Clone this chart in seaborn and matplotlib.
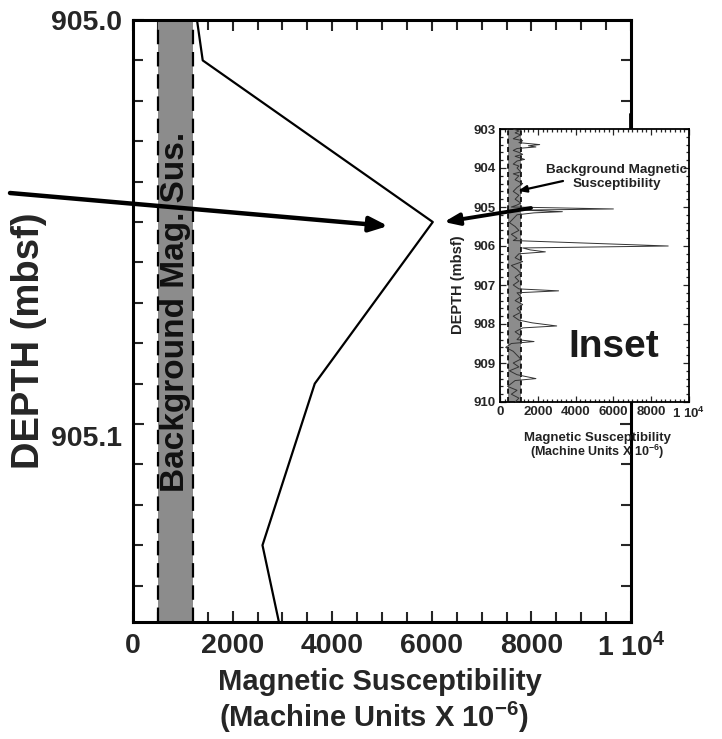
import matplotlib
matplotlib.use("Agg")
import matplotlib.pyplot as plt
import seaborn as sns
import numpy as np
from matplotlib.ticker import MultipleLocator
from matplotlib.lines import Line2D
from matplotlib.transforms import ScaledTranslation

# ---------------- data ----------------
main_depth = [905.000, 905.010, 905.050, 905.090, 905.130, 905.149]
main_value = [1285, 1400, 6020, 3650, 2600, 2930]
main_band = [500, 1200]
main_xticks = [0, 2000, 4000, 6000, 8000, 10000]
main_xticklabels = ["0", "2000", "4000", "6000", "8000", r"1 10$^4$"]
main_yticks = [905.0, 905.1]
main_yticklabels = ["905.0", "905.1"]

inset_depth = [903.00, 903.05, 903.10, 903.15, 903.20, 903.25, 903.30, 903.35, 903.40, 903.43,
               903.46, 903.50, 903.55, 903.60, 903.65, 903.70, 903.78, 903.82, 903.90, 903.95,
               904.00, 904.10, 904.15, 904.20, 904.30, 904.40, 904.50, 904.60, 904.70, 904.80,
               904.90, 904.95, 905.00, 905.05, 905.08, 905.12, 905.15, 905.20, 905.30, 905.40,
               905.50, 905.60, 905.70, 905.80, 905.86, 906.00, 906.05, 906.10, 906.15, 906.20,
               906.30, 906.40, 906.50, 906.60, 906.70, 906.80, 906.90, 907.00, 907.10, 907.15,
               907.20, 907.30, 907.40, 907.50, 907.60, 907.70, 907.80, 907.90, 907.97, 908.05,
               908.10, 908.20, 908.30, 908.40, 908.45, 908.50, 908.60, 908.70, 908.80, 908.90,
               909.00, 909.10, 909.20, 909.30, 909.40, 909.45, 909.60, 909.70, 909.80, 909.90,
               910.00]
inset_value = [700, 1000, 800, 1100, 900, 700, 1200, 1000, 2100, 1500,
               1900, 900, 700, 1000, 1200, 800, 1300, 900, 700, 1000,
               900, 1100, 700, 1000, 800, 1200, 900, 700, 1000, 800,
               1100, 900, 600, 6000, 1200, 3300, 1800, 900, 700, 500,
               800, 1000, 600, 900, 700, 8900, 1200, 1600, 2400, 1000,
               800, 1200, 600, 900, 1100, 800, 1000, 700, 1000, 3100,
               900, 1100, 800, 1200, 900, 1100, 700, 1000, 1700, 3000,
               1200, 800, 1100, 900, 1800, 600, 300, 700, 900, 1100,
               700, 1000, 500, 900, 1900, 800, 400, 900, 600, 1000,
               800]
inset_band = [400, 1100]
inset_yticks = [903, 904, 905, 906, 907, 908, 909, 910]

# ---------------- style ----------------
sns.set_style("ticks")
plt.rcParams["font.family"] = ["Liberation Sans", "DejaVu Sans"]
plt.rcParams["font.weight"] = "bold"
plt.rcParams["mathtext.fontset"] = "custom"
plt.rcParams["mathtext.rm"] = "Liberation Sans:bold"
plt.rcParams["mathtext.it"] = "Liberation Sans:bold"
plt.rcParams["mathtext.bf"] = "Liberation Sans:bold"
plt.rcParams["mathtext.default"] = "rm"

W, H = 722, 739
fig = plt.figure(figsize=(W / 100, H / 100), dpi=100)
fig.patch.set_facecolor("white")

def fx(px):
    return px / W

def fy(py):
    return 1 - py / H

GRAY = "#8c8c8c"

# ---------------- main axes ----------------
ax = fig.add_axes([fx(133), fy(622), fx(631) - fx(133), fy(20) - fy(622)])
ax.set_facecolor("white")
ax.axvspan(main_band[0], main_band[1], color=GRAY, lw=0, zorder=1)
for b in main_band:
    ax.axvline(b, color="black", lw=1.6, ls=(0, (6.5, 3.5)), zorder=2)
sns.lineplot(x=main_value, y=main_depth, sort=False, estimator=None,
             color="black", lw=1.6, ax=ax, zorder=3)
ax.set_xlim(0, 10000)
ax.set_ylim(905.149, 905.0)
ax.set_xticks(main_xticks)
ax.set_xticklabels(main_xticklabels)
ax.set_yticks(main_yticks)
ax.set_yticklabels(main_yticklabels)
ax.xaxis.set_minor_locator(MultipleLocator(500))
ax.yaxis.set_minor_locator(MultipleLocator(0.01))
ax.tick_params(which="both", direction="in", top=True, right=True, width=1.5,
               labelsize=20.5, pad=8)
ax.tick_params(which="major", length=8)
ax.tick_params(which="minor", length=7)
for lab in ax.get_xticklabels() + ax.get_yticklabels():
    lab.set_fontweight("bold")
# the 905.1 label sits a little below its tick in the reference
ylabs = ax.get_yticklabels()
ylabs[1].set_transform(ylabs[1].get_transform() + ScaledTranslation(0, -0.12, fig.dpi_scale_trans))
for s in ax.spines.values():
    s.set_linewidth(2.2)
    s.set_color("black")
ax.set_xlabel("")
ax.set_ylabel("")

ax.text(845, 905.0722, "Background Mag. Sus.", rotation=90, ha="center", va="center",
        fontsize=24, fontweight="bold", color="#111111", zorder=4)

fig.text(fx(380), fy(690), "Magnetic Susceptibility", ha="center", va="baseline",
         fontsize=21, fontweight="bold")
fig.text(fx(374), fy(727), r"(Machine Units X 10$^{-6}$)", ha="center", va="baseline",
         fontsize=21, fontweight="bold")
fig.text(fx(29), fy(341), "DEPTH (mbsf)", rotation=90, ha="center", va="center",
         fontsize=27.5, fontweight="bold")

# big arrow from the left
ax.annotate("", xy=(388, H - 226), xycoords="figure pixels",
            xytext=(10, H - 193), textcoords="figure pixels",
            arrowprops=dict(arrowstyle="-|>,head_length=1.1,head_width=0.45",
                            lw=3.2, color="black", shrinkA=0, shrinkB=0),
            annotation_clip=False, zorder=6)

# ---------------- inset ----------------
axi = fig.add_axes([fx(500), fy(402), fx(689) - fx(500), fy(129) - fy(402)], zorder=5)
axi.set_facecolor("white")
axi.axvspan(inset_band[0], inset_band[1], color=GRAY, lw=0, zorder=1)
for b in inset_band:
    axi.axvline(b, color="black", lw=1.2, ls=(0, (3, 2)), zorder=2)
sns.lineplot(x=inset_value, y=inset_depth, sort=False, estimator=None,
             color="#333333", lw=0.7, ax=axi, zorder=3)
axi.set_xlim(0, 10000)
axi.set_ylim(910, 903)
axi.set_xticks(main_xticks)
axi.set_xticklabels(main_xticklabels)
axi.set_yticks(inset_yticks)
axi.xaxis.set_minor_locator(MultipleLocator(250))
axi.yaxis.set_minor_locator(MultipleLocator(0.2))
axi.tick_params(which="both", direction="in", top=True, right=True, width=0.9,
                labelsize=9.5, pad=3)
axi.tick_params(which="major", length=4)
axi.tick_params(which="minor", length=2.5)
for lab in axi.get_xticklabels() + axi.get_yticklabels():
    lab.set_fontweight("bold")
for s in axi.spines.values():
    s.set_linewidth(1.3)
    s.set_color("black")
axi.set_xlabel("")
axi.set_ylabel("")
axi.text(0.6, 0.20, "Inset", transform=axi.transAxes, ha="center", va="center",
         fontsize=28, fontweight="bold", color="#1a1a1a")

fig.text(fx(597), fy(438), "Magnetic Susceptibility", ha="center", va="center",
         fontsize=9.5, fontweight="bold", color="#222222")
fig.text(fx(597), fy(452), r"(Machine Units X 10$^{-6}$)", ha="center", va="center",
         fontsize=9, fontweight="bold", color="#222222")
fig.text(fx(458), fy(285), "DEPTH (mbsf)", rotation=90, ha="center", va="center",
         fontsize=10.5, fontweight="bold", color="#222222")

fig.text(fx(617), fy(177), "Background Magnetic\nSusceptibility",
         ha="center", va="center", fontsize=9.7, fontweight="bold", color="#222222",
         linespacing=1.25, zorder=10)
axi.annotate("", xy=(518, H - 191), xycoords="figure pixels",
             xytext=(563, H - 181), textcoords="figure pixels",
             arrowprops=dict(arrowstyle="-|>,head_length=0.5,head_width=0.2",
                             lw=1.6, color="black", shrinkA=0, shrinkB=0),
             annotation_clip=False, zorder=7)

# arrow from the inset to the main peak
axi.annotate("", xy=(444, H - 222), xycoords="figure pixels",
             xytext=(531, H - 208), textcoords="figure pixels",
             arrowprops=dict(arrowstyle="-|>,head_length=0.9,head_width=0.35",
                             lw=2.8, color="black", shrinkA=0, shrinkB=0),
             annotation_clip=False, zorder=7)

# small tick above inset
fig.add_artist(Line2D([fx(630), fx(630)], [fy(114), fy(129)], color="black", lw=1.3))

fig.savefig("out.png", dpi=100, facecolor="white")
